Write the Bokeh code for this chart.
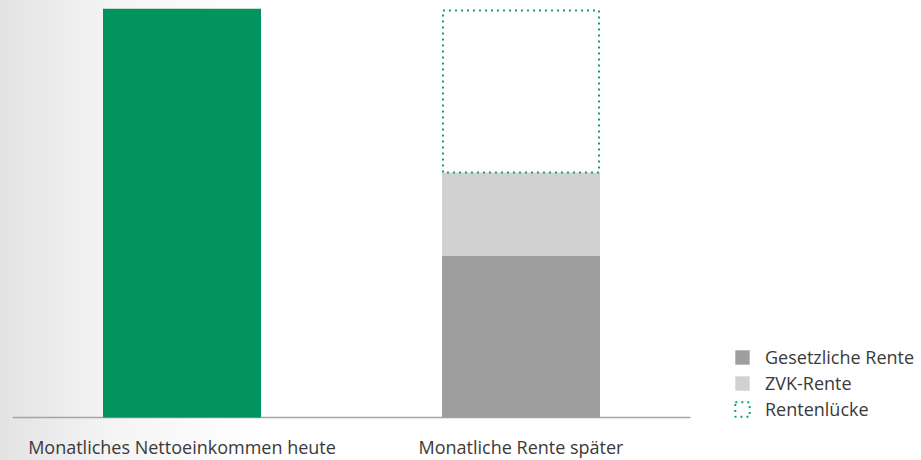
from bokeh.plotting import figure
from bokeh.models import Range1d, FixedTicker, Legend, LegendItem
from bokeh.embed import file_html
from bokeh.resources import INLINE

# ---- data ----
categories = ["Monatliches Nettoeinkommen heute", "Monatliche Rente später"]
netto_einkommen = [100.0, 0.0]
gesetzliche_rente = [0.0, 39.6]
zvk_rente = [0.0, 20.3]
rentenluecke = [0.0, 39.6]
series_labels = ["Gesetzliche Rente", "ZVK-Rente", "Rentenlücke"]

GREEN = "#02945e"
DARK_GREY = "#9d9e9d"
LIGHT_GREY = "#d0d1d0"
DOT_GREEN = "#16a070"
AXIS_GREY = "#a5a5a5"
FONT = "Open Sans"

xs = [i + 0.5 for i in range(len(categories))]
width_frac = 158 / 339
PX_PER_UNIT = 4.09
EXTRA = 5  # px of frame below the zero line, so the legend stays inside the frame

p = figure(frame_width=909, frame_height=409 + EXTRA, output_backend="svg", toolbar_location=None,
           x_range=Range1d(0, 909 / 339), y_range=Range1d(-EXTRA / PX_PER_UNIT, 100),
           y_axis_location=None,
           min_border_left=12, min_border_right=0, min_border_top=8, min_border_bottom=0)
p.background_fill_alpha = 0
p.border_fill_alpha = 0
p.outline_line_color = None
p.grid.visible = False

# baseline (zero line) spanning the categories
p.segment(x0=[0], y0=[0], x1=[len(categories)], y1=[0], line_color=AXIS_GREY, line_width=1.5)

# bars
b0 = [0.0] * len(xs)
top_net = [b + v for b, v in zip(b0, netto_einkommen)]
p.vbar(x=xs[:1], bottom=b0[:1], top=top_net[:1], width=width_frac,
       fill_color=GREEN, line_color=None)

top_g = [v for v in gesetzliche_rente]
top_z = [a + b for a, b in zip(top_g, zvk_rente)]
top_l = [a + b for a, b in zip(top_z, rentenluecke)]

r_g = p.vbar(x=xs[1:], bottom=b0[1:], top=top_g[1:], width=width_frac,
             fill_color=DARK_GREY, line_color=None)
r_z = p.vbar(x=xs[1:], bottom=top_g[1:], top=top_z[1:], width=width_frac,
             fill_color=LIGHT_GREY, line_color=None)
r_l = p.vbar(x=xs[1:], bottom=top_z[1:], top=top_l[1:], width=width_frac - 2 / 339,
             fill_alpha=0, line_color=DOT_GREEN, line_width=2, line_dash="2 4")

# axis (labels only; the line is the baseline above)
ax = p.xaxis[0]
ax.ticker = FixedTicker(ticks=xs)
ax.major_label_overrides = {x: c for x, c in zip(xs, categories)}
ax.axis_line_color = None
ax.major_tick_line_color = None
ax.minor_tick_line_color = None
ax.major_tick_out = 0
ax.major_label_standoff = 12
ax.major_label_text_font = FONT
ax.major_label_text_font_size = "18px"
ax.major_label_text_color = "#3a3a3a"

legend = Legend(items=[LegendItem(label=series_labels[0], renderers=[r_g]),
                       LegendItem(label=series_labels[1], renderers=[r_z]),
                       LegendItem(label=series_labels[2], renderers=[r_l])],
                location=(721, EXTRA - 4), glyph_width=18, glyph_height=18,
                label_standoff=14, label_text_font=FONT, label_text_font_size="18px",
                label_text_color="#3a3a3a", label_height=20, spacing=2,
                padding=0, margin=0, border_line_alpha=0, background_fill_alpha=0)
p.add_layout(legend)

html = file_html(p, INLINE)
html = html.replace("<head>", "<head><style>html,body{background:linear-gradient(to right,#e3e3e3 0px,#f4f4f4 110px,#ffffff 260px) no-repeat;background-color:#fff;}</style>", 1)
open("out.html", "w").write(html)
